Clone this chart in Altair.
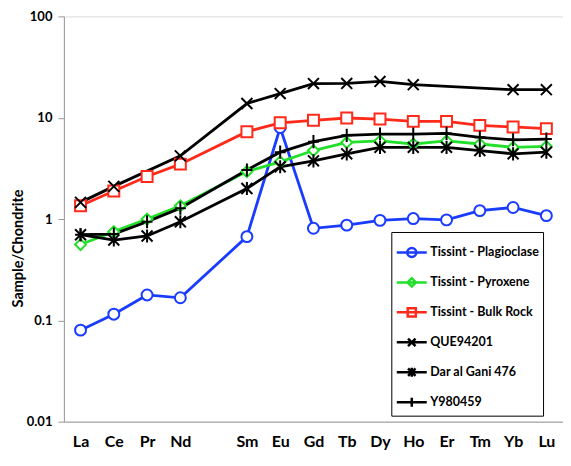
import altair as alt
import pandas as pd

elements = ["La", "Ce", "Pr", "Nd", "Pm", "Sm", "Eu", "Gd", "Tb", "Dy", "Ho", "Er", "Tm", "Yb", "Lu"]

series_names = [
    "Tissint - Plagioclase",
    "Tissint - Pyroxene",
    "Tissint - Bulk Rock",
    "QUE94201",
    "Dar al Gani 476",
    "Y980459",
]

plagioclase = [0.080, 0.115, 0.178, 0.167, None, 0.67, 8.0, 0.81, 0.87, 0.97, 1.01, 0.98, 1.21, 1.30, 1.08]
pyroxene = [0.56, 0.75, 1.0, 1.35, None, 2.94, 3.67, 4.74, 5.7, 5.9, 5.5, 5.9, 5.5, 5.1, 5.2]
bulk_rock = [1.35, 1.89, 2.63, 3.48, None, 7.28, 8.9, 9.42, 9.93, 9.7, 9.2, 9.2, 8.4, 8.1, 7.8]
que94201 = [1.46, 2.1, None, 4.2, None, 13.8, 17.3, 21.7, 21.8, 22.8, 21.2, None, None, 18.9, 18.9]
dag476 = [0.70, 0.62, 0.68, 0.94, None, 2.0, 3.28, 3.75, 4.4, 5.1, 5.1, 5.1, 4.74, 4.4, 4.57]
y980459 = [0.70, 0.71, 0.94, 1.28, None, 3.05, 4.57, 5.8, 6.7, 6.9, 6.9, 7.0, 6.4, 6.05, 6.15]

colors = ["#1a3cff", "#22e02a", "#ff2a1a", "#000000", "#000000", "#000000"]

marker_shapes = [
    "circle",
    "diamond",
    "square",
    "M-1,-1L1,1M-1,1L1,-1",
    "M-1,-1L1,1M-1,1L1,-1M0,-1.2L0,1.2",
    "M0,-1.2L0,1.2M-1,0L1,0",
]

legend_shapes = [
    "M-1,0L1,0M-0.3,0A0.3,0.3 0 1,0 0.3,0A0.3,0.3 0 1,0 -0.3,0",
    "M-1,0L1,0M-0.28,0L0,-0.28L0.28,0L0,0.28Z",
    "M-1,0L1,0M-0.27,-0.27L0.27,-0.27L0.27,0.27L-0.27,0.27Z",
    "M-1,0L1,0M-0.25,-0.25L0.25,0.25M-0.25,0.25L0.25,-0.25",
    "M-1,0L1,0M-0.25,-0.25L0.25,0.25M-0.25,0.25L0.25,-0.25M0,-0.3L0,0.3",
    "M-1,0L1,0M0,-0.3L0,0.3",
]

rows = []
for name, vals in zip(series_names, [plagioclase, pyroxene, bulk_rock, que94201, dag476, y980459]):
    for i, (el, v) in enumerate(zip(elements, vals)):
        if v is not None:
            rows.append({"series": name, "element": el, "idx": i, "value": v})
df = pd.DataFrame(rows)

FONT = "Lato"

x = alt.X(
    "element:N",
    scale=alt.Scale(type="point", domain=elements, padding=0.5),
    axis=alt.Axis(
        title=None,
        labelAngle=0,
        ticks=False,
        labelExpr="datum.value == 'Pm' ? '' : datum.value",
        labelFont=FONT,
        labelFontSize=16,
        labelFontWeight="bold",
        labelColor="black",
        labelPadding=12,
        domainColor="#999999",
        grid=False,
    ),
)
y = alt.Y(
    "value:Q",
    scale=alt.Scale(type="log", domain=[0.01, 100]),
    axis=alt.Axis(
        title="Sample/Chondrite",
        values=[0.01, 0.1, 1, 10, 100],
        labelExpr="toString(datum.value)",
        labelFont=FONT,
        labelFontSize=13,
        labelFontWeight="bold",
        labelColor="black",
        labelPadding=6,
        tickSize=6,
        tickColor="#999999",
        domainColor="#999999",
        grid=False,
        titleFont=FONT,
        titleFontSize=14.5,
        titleFontWeight="bold",
        titleColor="black",
        titlePadding=1,
        titleY=232,
    ),
)

leg = alt.Legend(
    title=None,
    orient="none",
    legendX=328,
    legendY=216,
    symbolSize=900,
    symbolStrokeWidth=2.5,
    symbolOpacity=1,
    symbolFillColor="transparent",
    labelFont=FONT,
    labelFontSize=12.5,
    labelFontWeight="bold",
    labelColor="black",
    labelOffset=2,
    rowPadding=4,
    padding=4,
    strokeColor="black",
    fillColor="white",
)

stroke = alt.Stroke("series:N", scale=alt.Scale(domain=series_names, range=colors), legend=leg)

lines = alt.Chart(df).mark_line(strokeWidth=2.8).encode(
    x=x, y=y, stroke=stroke, order="idx:Q"
)

point_layers = []
for name, shp in zip(series_names, marker_shapes):
    point_layers.append(
        alt.Chart(df)
        .transform_filter(alt.datum.series == name)
        .mark_point(shape=shp, filled=False, fill="white", fillOpacity=1, opacity=1, strokeWidth=2, size=120)
        .encode(x=x, y=y, stroke=stroke)
    )

legend_layer = alt.Chart(df).transform_filter("false").mark_point(filled=False, strokeWidth=2.5, opacity=1).encode(
    x=x,
    y=y,
    stroke=stroke,
    shape=alt.Shape("series:N", scale=alt.Scale(domain=series_names, range=legend_shapes), legend=leg),
)

chart = (
    alt.layer(lines, *point_layers, legend_layer)
    .properties(width=500, height=406, padding={"left": 2, "top": 2, "right": 0, "bottom": 0})
    .configure_view(stroke=None)
    .configure(font=FONT)
)

chart.save("out.html", embed_options={"renderer": "svg", "actions": False})
